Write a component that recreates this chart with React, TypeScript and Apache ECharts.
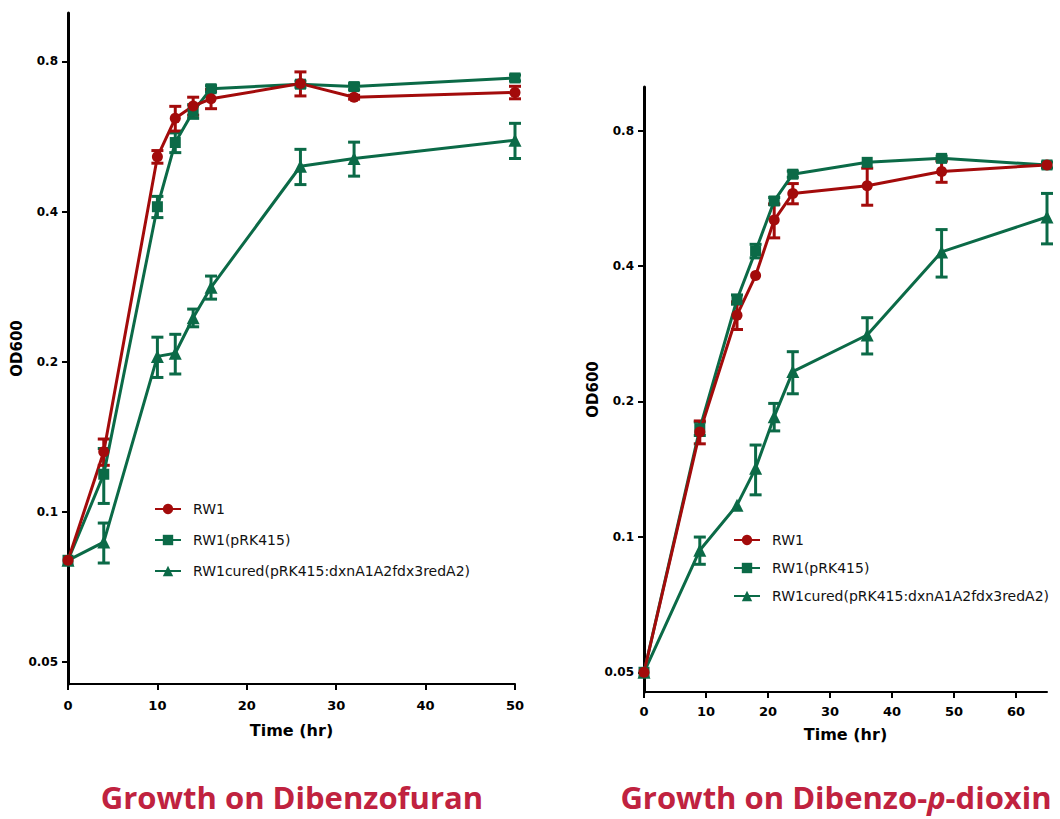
import React, { useEffect, useRef } from "react";
import * as echarts from "echarts";

const SERIES_NAMES = ["RW1", "RW1(pRK415)", "RW1cured(pRK415:dxnA1A2fdx3redA2)"];
const Y_TICKS = [0.05, 0.1, 0.2, 0.4, 0.8];
const DBF_X_TICKS = [0, 10, 20, 30, 40, 50];
const DD_X_TICKS = [0, 10, 20, 30, 40, 50, 60];
const TITLES = ["Growth on Dibenzofuran", "Growth on Dibenzo-", "p", "-dioxin"];

// Growth on Dibenzofuran
const DBF_TIME = [0, 4, 10, 12, 14, 16, 26, 32, 50];
const DBF_RW1 = [0.08, 0.132, 0.515, 0.615, 0.651, 0.673, 0.722, 0.678, 0.693];
const DBF_RW1_ERR = [0, 0.008, 0.015, 0.035, 0.027, 0.03, 0.04, 0.006, 0.02];
const DBF_PRK = [0.08, 0.119, 0.409, 0.55, 0.635, 0.705, 0.72, 0.712, 0.741];
const DBF_PRK_ERR = [0, 0.015, 0.02, 0.025, 0.02, 0.01, 0.01, 0.01, 0.01];
const DBF_CURED = [0.08, 0.087, 0.205, 0.208, 0.245, 0.282, 0.493, 0.511, 0.556];
const DBF_CURED_ERR = [0, 0.008, 0.019, 0.019, 0.01, 0.015, 0.04, 0.04, 0.045];

// Growth on Dibenzo-p-dioxin
const DD_TIME = [0, 9, 15, 18, 21, 24, 36, 48, 65];
const DD_RW1 = [0.05, 0.171, 0.311, 0.381, 0.506, 0.58, 0.603, 0.649, 0.671];
const DD_RW1_ERR = [0, 0.01, 0.022, 0, 0.044, 0.03, 0.057, 0.035, 0];
const DD_PRK = [0.05, 0.174, 0.337, 0.432, 0.558, 0.64, 0.68, 0.694, 0.671];
const DD_PRK_ERR = [0, 0.006, 0.008, 0.015, 0.01, 0.01, 0, 0.008, 0.01];
const DD_CURED = [0.05, 0.0934, 0.1176, 0.142, 0.185, 0.233, 0.281, 0.43, 0.514];
const DD_CURED_ERR = [0, 0.0065, 0, 0.018, 0.013, 0.025, 0.026, 0.052, 0.066];

const RED = "#A30B0B";
const GREEN = "#0B6A47";
const TITLE_RED = "#C0223F";
const TICK_FONT = "DejaVu Sans";

type Set = { name: string; color: string; symbol: string; size: number; vals: number[]; errs: number[] };

function buildSeries(time: number[], sets: Set[], axisIndex: number) {
  const lines: any[] = [];
  const bars: any[] = [];
  sets.forEach((s) => {
    const errData = time
      .map((t, i) => [t, s.vals[i] - s.errs[i], s.vals[i] + s.errs[i]])
      .filter((d, i) => s.errs[i] > 0);
    lines.push({
      type: "line",
      name: s.name,
      xAxisIndex: axisIndex,
      yAxisIndex: axisIndex,
      data: time.map((t, i) => [t, s.vals[i]]),
      symbol: s.symbol,
      symbolSize: s.size,
      showAllSymbol: true,
      z: 3,
      color: s.color,
      lineStyle: { color: s.color, width: 3 },
      itemStyle: { color: s.color },
    });
    bars.push({
      type: "custom",
      name: s.name,
      xAxisIndex: axisIndex,
      yAxisIndex: axisIndex,
      data: errData,
      silent: true,
      z: 2,
      color: s.color,
      itemStyle: { color: s.color },
      renderItem: (params: any, api: any) => {
        const x = api.value(0);
        const lo = api.coord([x, api.value(1)]);
        const hi = api.coord([x, api.value(2)]);
        const w = 6;
        const st = { stroke: s.color, lineWidth: 3 };
        return {
          type: "group",
          children: [
            { type: "line", shape: { x1: lo[0], y1: lo[1], x2: hi[0], y2: hi[1] }, style: st },
            { type: "line", shape: { x1: lo[0] - w, y1: lo[1], x2: lo[0] + w, y2: lo[1] }, style: st },
            { type: "line", shape: { x1: hi[0] - w, y1: hi[1], x2: hi[0] + w, y2: hi[1] }, style: st },
          ],
        };
      },
    });
  });
  return [lines, bars];
}

function yAxis(gridIndex: number, nameGap: number) {
  return {
    type: "log",
    logBase: 2,
    gridIndex,
    min: 0.0452,
    max: 1.0,
    name: "OD600",
    nameLocation: "middle",
    nameGap,
    nameTextStyle: { fontFamily: TICK_FONT, fontWeight: "bold", fontSize: 15, color: "#000" },
    axisLine: { show: true, lineStyle: { color: "#000", width: 3 } },
    axisTick: { show: true, length: 6, lineStyle: { color: "#000", width: 2 }, customValues: Y_TICKS },
    axisLabel: {
      customValues: Y_TICKS,
      margin: 10,
      fontFamily: TICK_FONT,
      fontWeight: "bold",
      fontSize: 12,
      color: "#000",
      formatter: (v: number) => String(Number(v.toPrecision(3))),
    },
    splitLine: { show: false },
  };
}

function xAxis(gridIndex: number, max: number, ticks: number[], nameGap: number, margin: number) {
  return {
    type: "value",
    gridIndex,
    min: 0,
    max,
    name: "Time (hr)",
    nameLocation: "middle",
    nameGap,
    nameTextStyle: { fontFamily: TICK_FONT, fontWeight: "bold", fontSize: 16, color: "#000" },
    axisLine: { show: true, onZero: false, lineStyle: { color: "#000", width: 2 } },
    axisTick: { show: true, length: 6, lineStyle: { color: "#000", width: 2 }, customValues: ticks },
    axisLabel: {
      customValues: ticks,
      margin,
      fontFamily: TICK_FONT,
      fontWeight: "bold",
      fontSize: 13,
      color: "#000",
    },
    splitLine: { show: false },
  };
}

function legend(left: number, top: number, gap: number) {
  return {
    left,
    top,
    orient: "vertical",
    itemWidth: 26,
    itemHeight: 13,
    itemGap: gap,
    data: SERIES_NAMES,
    selectedMode: false,
    textStyle: { fontFamily: TICK_FONT, fontSize: 14, color: "#111", padding: [0, 0, 0, 7] },
  };
}

export default function App() {
  const ref = useRef<HTMLDivElement>(null);
  useEffect(() => {
    if (!ref.current) return;
    const chart = echarts.init(ref.current, null, { renderer: "svg" });
    const dbfSets: Set[] = [
      { name: SERIES_NAMES[2], color: GREEN, symbol: "triangle", size: 13, vals: DBF_CURED, errs: DBF_CURED_ERR },
      { name: SERIES_NAMES[1], color: GREEN, symbol: "rect", size: 11, vals: DBF_PRK, errs: DBF_PRK_ERR },
      { name: SERIES_NAMES[0], color: RED, symbol: "circle", size: 11, vals: DBF_RW1, errs: DBF_RW1_ERR },
    ];
    const ddSets: Set[] = [
      { name: SERIES_NAMES[2], color: GREEN, symbol: "triangle", size: 13, vals: DD_CURED, errs: DD_CURED_ERR },
      { name: SERIES_NAMES[1], color: GREEN, symbol: "rect", size: 11, vals: DD_PRK, errs: DD_PRK_ERR },
      { name: SERIES_NAMES[0], color: RED, symbol: "circle", size: 11, vals: DD_RW1, errs: DD_RW1_ERR },
    ];
    const [dbfLines, dbfBars] = buildSeries(DBF_TIME, dbfSets, 0);
    const [ddLines, ddBars] = buildSeries(DD_TIME, ddSets, 1);
    chart.setOption({
      animation: false,
      backgroundColor: "#fff",
      grid: [
        { left: 68, top: 13, width: 447, height: 671 },
        { left: 644, top: 87, width: 403, height: 605 },
      ],
      xAxis: [xAxis(0, 50, DBF_X_TICKS, 38, 15), xAxis(1, 65, DD_X_TICKS, 34, 13)],
      yAxis: [yAxis(0, 44), yAxis(1, 28)],
      legend: [legend(149, 497, 17), legend(728, 528, 14)],
      series: [...dbfLines, ...ddLines, ...dbfBars, ...ddBars],
      graphic: [
        {
          type: "text",
          x: 292,
          y: 797,
          style: {
            text: TITLES[0],
            fill: TITLE_RED,
            fontFamily: "Open Sans",
            fontWeight: "bold",
            fontSize: 31,
            lineHeight: 32,
            textAlign: "center",
            textVerticalAlign: "middle",
          },
        },
        {
          type: "text",
          x: 836,
          y: 797,
          style: {
            text: "{a|" + TITLES[1] + "}{i|" + TITLES[2] + "}{a|" + TITLES[3] + "}",
            fill: TITLE_RED,
            textAlign: "center",
            textVerticalAlign: "middle",
            rich: {
              a: { fontFamily: "Open Sans", fontWeight: "bold", fontSize: 31, lineHeight: 32, fill: TITLE_RED },
              i: { fontFamily: "Open Sans", fontWeight: "bold", fontStyle: "italic", fontSize: 31, lineHeight: 32, fill: TITLE_RED },
            },
          },
        },
      ],
    });
    return () => chart.dispose();
  }, []);
  return <div ref={ref} style={{ position: "fixed", left: 0, top: 0, width: 1060, height: 819 }} />;
}
